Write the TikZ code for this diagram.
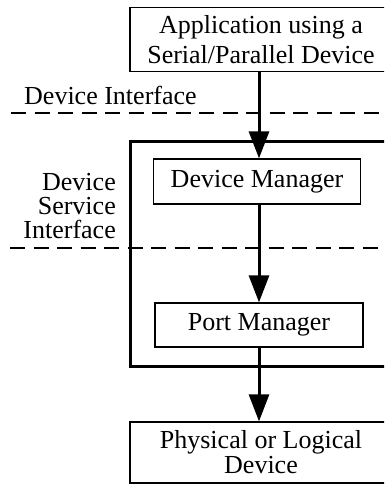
\documentclass[tikz,border=0pt]{standalone}
\usepackage{fontspec}
\setmainfont{Liberation Serif}
\usetikzlibrary{arrows.meta}
\begin{document}
\begin{tikzpicture}[x=1pt,y=-1pt,
  box/.style={draw,line width=1.3pt,inner sep=0pt,align=center,font=\fontsize{26}{30}\selectfont},
  lbl/.style={inner sep=0pt,font=\fontsize{26}{24}\selectfont},
  flow/.style={line width=3pt,-{Triangle[length=27pt,width=20pt]}},
  sep/.style={line width=1.3pt,dash pattern=on 15pt off 8.5pt},
  frame/.style={line width=3pt}]
\useasboundingbox (0,0) rectangle (384,484);
\clip (0,0) rectangle (384,484);
% dashed separators
\coordinate (d1a) at (11,113);
\coordinate (d1b) at (390,113);
\coordinate (d2a) at (10,248);
\coordinate (d2b) at (390,248);
\draw[sep] (d1a) -- (d1b);
\draw[sep] (d2a) -- (d2b);
% outer frame
\coordinate (fa) at (130,141);
\coordinate (fb) at (392,366);
\draw[frame] (fa) rectangle (fb);
% boxes
\node[box,minimum width=262pt,minimum height=63.5pt] (app) at (261,39.5)
  {Application using a\\Serial/Parallel Device};
\node[box,minimum width=207pt,minimum height=45pt] (dm) at (257,181.5) {Device Manager};
\node[box,minimum width=208pt,minimum height=44pt] (pm) at (259,325) {Port Manager};
\node[box,font=\fontsize{26}{25}\selectfont,minimum width=262pt,minimum height=61pt] (phy) at (261,452.5)
  {Physical or Logical\\Device};
% labels
\node[lbl,anchor=west] (di) at (24,95) {Device Interface};
\node[lbl,anchor=east,align=right] (dsi) at (116,206) {Device\\Service\\Interface};
% arrows
\draw[flow] (app.south -| pm.north) -- (dm.north -| pm.north);
\draw[flow] (dm.south -| pm.north) -- (pm.north);
\draw[flow] (pm.south) -- (phy.north -| pm.south);
\end{tikzpicture}
\end{document}
